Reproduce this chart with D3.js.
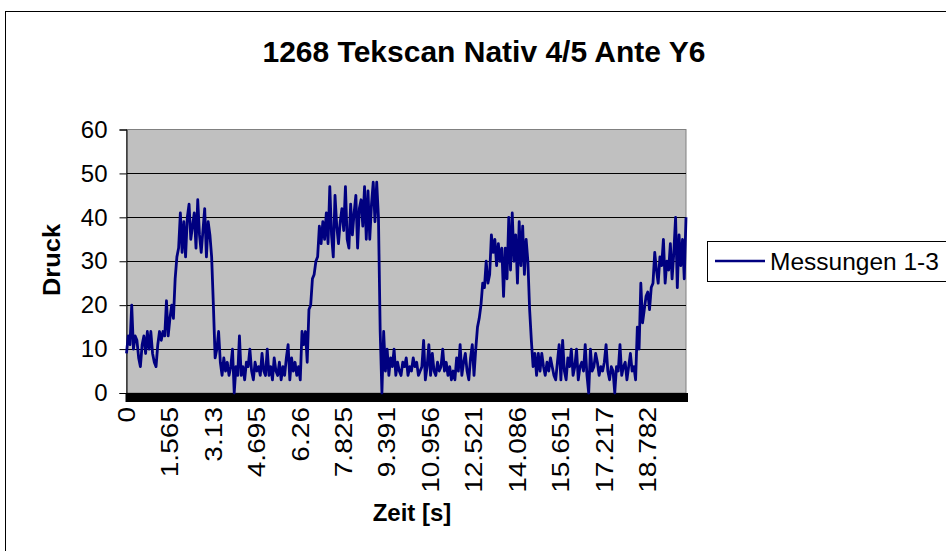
<!DOCTYPE html>
<html>
<head>
<meta charset="utf-8">
<script src="https://cdn.jsdelivr.net/npm/d3@7"></script>
<style>
  body { margin: 0; background: #fff; }
  text { font-family: "Liberation Sans", Arial, sans-serif; }
</style>
</head>
<body>
<div id="chart"></div>
<script>
// Messwerte (Druck), gleichmaessig abgetastet
const zeitSchritt = 0.0626;
const druck = [
  9,13,11,20,10,13,12,8,6,11,13,9,14,10,14,9,7,6,11,14,12,
  14,13,21,13,17,20,17,26,31,33,
  41,32,39,31,40,43,35,38,41,33,44,36,32,37,42,31,39,36,31,
  20,8,
  10,14,7,4,8,5,7,4,6,10,0,6,4,13,4,6,3,7,6,10,5,3,7,5,6,4,9,5,4,10,4,6,3,8,5,4,7,3,6,4,8,11,3,8,5,7,4,6,3,
  14,11,14,7,19,20,26,27,30,31,38,34,39,35,41,34,47,36,31,45,38,34,39,42,37,47,35,33,43,36,41,45,33,42,44,38,47,35,46,35,43,48,39,48,40,14,0,14,5,
  10,4,8,6,10,4,7,5,4,7,6,8,4,6,5,8,6,7,4,5,6,12,3,6,11,4,9,5,4,7,5,6,10,5,7,4,6,3,5,3,8,5,11,4,7,9,5,3,8,11,4,
  10,15,17,20,25,24,30,25,27,36,32,35,29,34,30,33,22,33,26,40,28,41,30,36,25,39,29,38,27,35,30,19,12,6,
  9,4,9,5,9,6,4,7,5,8,6,4,3,7,11,3,12,5,3,8,6,10,4,6,10,3,6,7,5,11,4,0,10,5,6,9,7,4,6,5,7,11,5,3,6,5,0,6,5,11,4,6,7,3,6,9,5,6,3,
  15,10,25,16,19,22,23,19,24,25,32,28,25,31,29,35,25,30,28,34,26,32,40,24,36,29,35,26,40
];
const xTickLabels = ["0","1.565","3.13","4.695","6.26","7.825","9.391","10.956","12.521","14.086","15.651","17.217","18.782"];
const yTicks = [0,10,20,30,40,50,60];
const titel = "1268 Tekscan Nativ 4/5 Ante Y6";
const serienName = "Messungen 1-3";

const width = 946, height = 551;
const plot = { left: 126.5, right: 686, top: 129.5, bottom: 393 };
const schrift = "24px";

const zeiten = druck.map((d, i) => i * zeitSchritt);

const svg = d3.select("#chart")
  .append("svg")
  .attr("width", width)
  .attr("height", height);

svg.append("rect")
  .attr("width", width).attr("height", height)
  .attr("fill", "#fff");

// Rahmen ums Diagramm (rechts und unten abgeschnitten)
svg.append("rect")
  .attr("x", 5.5).attr("y", 11.5)
  .attr("width", 1000).attr("height", 700)
  .attr("fill", "none")
  .attr("stroke", "#000");

const x = d3.scaleLinear()
  .domain([0, zeiten[zeiten.length - 1]])
  .range([plot.left, plot.right]);

const y = d3.scaleLinear()
  .domain([0, 60])
  .range([plot.bottom, plot.top]);

// plot area
svg.append("rect")
  .attr("x", plot.left).attr("y", plot.top)
  .attr("width", plot.right - plot.left)
  .attr("height", plot.bottom - plot.top)
  .attr("fill", "#c0c0c0")
  .attr("stroke", "#808080");

svg.append("g").selectAll("line")
  .data(yTicks.filter(d => d > 0 && d < 60))
  .enter()
  .append("line")
  .attr("x1", plot.left).attr("x2", plot.right)
  .attr("y1", d => y(d)).attr("y2", d => y(d))
  .attr("stroke", "#000")
  .attr("shape-rendering", "crispEdges");

// y axis
const yAxis = svg.append("g")
  .attr("transform", "translate(" + plot.left + ",0)")
  .call(d3.axisLeft(y).tickValues(yTicks).tickSize(7).tickPadding(12));
yAxis.selectAll("text").attr("font-size", schrift).attr("fill", "#000")
  .style("font-family", "'Liberation Sans', Arial, sans-serif");
yAxis.selectAll("line, path").attr("stroke", "#000");

// x axis: ein Tick pro Messpunkt -> schwarzes Band
const xAxis = svg.append("g")
  .attr("transform", "translate(0," + plot.bottom + ")")
  .call(d3.axisBottom(x).tickValues(zeiten).tickSize(9).tickFormat(""));
xAxis.selectAll("line").attr("stroke", "#000").attr("stroke-width", 3);
xAxis.select("path").attr("stroke", "#000");

// Beschriftung der Zeitachse, etwas in die Laenge gezogen wie im Original
svg.append("g").selectAll("text")
  .data(xTickLabels)
  .enter()
  .append("text")
  .attr("transform", d => "translate(" + x(+d) + ",407) rotate(-90) scale(1.17,1)")
  .attr("text-anchor", "end")
  .attr("dominant-baseline", "central")
  .attr("font-size", schrift)
  .text(d => d);

// die Messkurve
const line = d3.line()
  .x((d, i) => x(zeiten[i]))
  .y(d => y(d));

svg.append("path")
  .datum(druck)
  .attr("d", line)
  .attr("fill", "none")
  .attr("stroke", "#000080")
  .attr("stroke-width", 2.8)
  .attr("stroke-linejoin", "round");

// titles
svg.append("text")
  .attr("x", 484).attr("y", 62)
  .attr("text-anchor", "middle")
  .attr("font-size", "30px")
  .attr("font-weight", "bold")
  .text(titel);

svg.append("text")
  .attr("transform", "translate(52,260) rotate(-90) scale(1.06,1)")
  .attr("text-anchor", "middle")
  .attr("dominant-baseline", "central")
  .attr("font-size", schrift)
  .attr("font-weight", "bold")
  .text("Druck");

svg.append("text")
  .attr("x", 412).attr("y", 521)
  .attr("text-anchor", "middle")
  .attr("font-size", schrift)
  .attr("font-weight", "bold")
  .text("Zeit [s]");

// legend
const legende = svg.append("g");
legende.append("rect")
  .attr("x", 707.5).attr("y", 241.5)
  .attr("width", 300).attr("height", 40)
  .attr("fill", "#fff")
  .attr("stroke", "#000");
legende.append("line")
  .attr("x1", 715).attr("x2", 765)
  .attr("y1", 261).attr("y2", 261)
  .attr("stroke", "#000080")
  .attr("stroke-width", 2.5);
legende.append("text")
  .attr("x", 770).attr("y", 269.5)
  .attr("font-size", "24.5px")
  .text(serienName);
</script>
</body>
</html>
